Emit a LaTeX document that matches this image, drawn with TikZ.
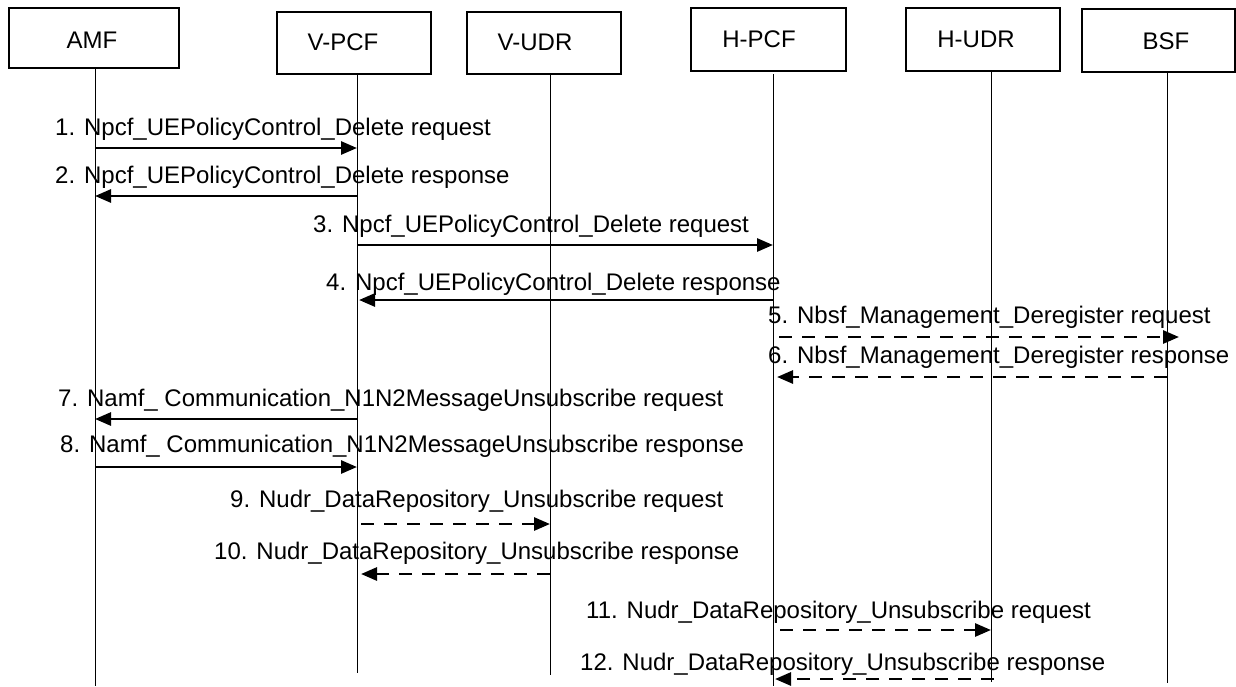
\documentclass[tikz,border=0pt]{standalone}
\usepackage{fontspec}
\setmainfont{Liberation Sans}
\usetikzlibrary{arrows.meta}
\begin{document}
\begin{tikzpicture}[x=1pt,y=-1pt,
  font=\fontsize{24}{28}\selectfont,
  box/.style={draw, line width=1.2pt, inner sep=0pt},
  life/.style={line width=0.9pt},
  req/.style={line width=2.8pt, -{Triangle[length=16pt,width=13pt]}},
  dreq/.style={req, dash pattern=on 13pt off 10pt},
  lbl/.style={anchor=base west, inner sep=0pt},
  ttl/.style={anchor=base, inner sep=0pt}]
\useasboundingbox (0,0) rectangle (1236,686);
% boxes
\node[box, minimum width=170pt, minimum height=60pt] (amf) at (94,38) {};
\node[box, minimum width=154pt, minimum height=62pt] (vpcf) at (354,43) {};
\node[box, minimum width=154pt, minimum height=62pt] (vudr) at (544,43) {};
\node[box, minimum width=155pt, minimum height=63pt] (hpcf) at (768.5,39.5) {};
\node[box, minimum width=154pt, minimum height=63pt] (hudr) at (983,39.5) {};
\node[box, minimum width=153pt, minimum height=63pt] (bsf) at (1158.5,40.5) {};
\node[ttl] (amfT) at (92,48) {AMF};
\node[ttl] (vpcfT) at (343,50) {V-PCF};
\node[ttl] (vudrT) at (535,50) {V-UDR};
\node[ttl] (hpcfT) at (759,47) {H-PCF};
\node[ttl] (hudrT) at (976,47) {H-UDR};
\node[ttl] (bsfT) at (1166,49) {BSF};
% lifelines
\coordinate (amfA) at (95,68);   \coordinate (amfB) at (95,686);
\coordinate (vpcfA) at (357,74); \coordinate (vpcfB) at (357,673);
\coordinate (vudrA) at (550,74); \coordinate (vudrB) at (550,675);
\coordinate (hpcfA) at (773,74); \coordinate (hpcfB) at (773,686);
\coordinate (hudrA) at (991,71); \coordinate (hudrB) at (991,682);
\coordinate (bsfA) at (1167,72); \coordinate (bsfB) at (1167,683);
\foreach \n in {amf,vpcf,vudr,hpcf,hudr,bsf} \draw[life] (\n A) -- (\n B);
% messages
\node[lbl] (l1) at (55,135) {1. Npcf\_UEPolicyControl\_Delete request};
\draw[req] (amfA |- 0,148) -- (vpcfA |- 0,148);
\node[lbl] (l2) at (55,183) {2. Npcf\_UEPolicyControl\_Delete response};
\draw[req] (vpcfA |- 0,196) -- (amfA |- 0,196);
\node[lbl] (l3) at (313,232) {3. Npcf\_UEPolicyControl\_Delete request};
\draw[req] (vpcfA |- 0,245) -- (hpcfA |- 0,245);
\node[lbl] (l4) at (326,290) {4. Npcf\_UEPolicyControl\_Delete response};
\draw[req] (hpcfA |- 0,300) -- ([xshift=2pt]vpcfA |- 0,300);
\node[lbl] (l5) at (768,323) {5. Nbsf\_Management\_Deregister request};
\draw[dreq] ([xshift=6pt]hpcfA |- 0,337) -- ([xshift=12pt]bsfA |- 0,337);
\node[lbl] (l6) at (768,363) {6. Nbsf\_Management\_Deregister response};
\draw[dreq] (bsfA |- 0,377) -- ([xshift=4pt]hpcfA |- 0,377);
\node[lbl] (l7) at (58,406) {7. Namf\_ Communication\_N1N2MessageUnsubscribe request};
\draw[req] (vpcfA |- 0,419) -- (amfA |- 0,419);
\node[lbl] (l8) at (60,452) {8. Namf\_ Communication\_N1N2MessageUnsubscribe response};
\draw[req] (amfA |- 0,467) -- (vpcfA |- 0,467);
\node[lbl] (l9) at (230,507) {9. Nudr\_DataRepository\_Unsubscribe request};
\draw[dreq] ([xshift=4pt]vpcfA |- 0,524) -- (vudrA |- 0,524);
\node[lbl] (l10) at (214,559) {10. Nudr\_DataRepository\_Unsubscribe response};
\draw[dreq] (vudrA |- 0,574) -- ([xshift=4pt]vpcfA |- 0,574);
\node[lbl] (l11) at (586,618) {11. Nudr\_DataRepository\_Unsubscribe request};
\draw[dreq] ([xshift=7pt]hpcfA |- 0,630) -- (hudrA |- 0,630);
\node[lbl] (l12) at (580,670) {12. Nudr\_DataRepository\_Unsubscribe response};
\draw[dreq] ([xshift=3pt]hudrA |- 0,679) -- ([xshift=2pt]hpcfA |- 0,679);
\end{tikzpicture}
\end{document}
